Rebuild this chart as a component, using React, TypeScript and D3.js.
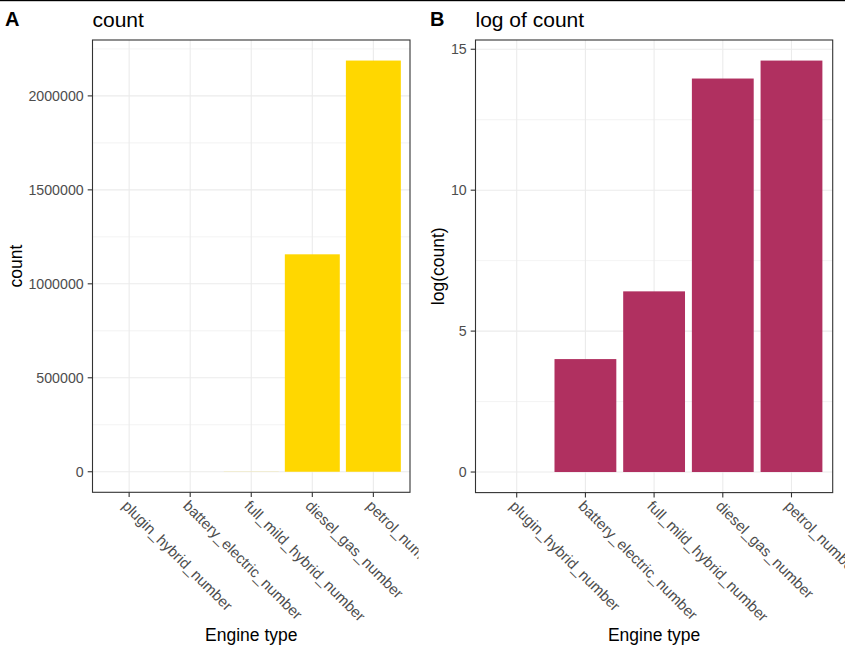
import React from "react";
import * as d3 from "d3";

const categories = [
  "plugin_hybrid_number",
  "battery_electric_number",
  "full_mild_hybrid_number",
  "diesel_gas_number",
  "petrol_number",
];
const counts = [1, 55, 608, 1157000, 2188000];
const logCounts = counts.map((c) => Math.log(c));
const ticksA = [0, 500000, 1000000, 1500000, 2000000];
const minorA = [250000, 750000, 1250000, 1750000, 2250000];
const ticksB = [0, 5, 10, 15];
const minorB = [2.5, 7.5, 12.5];

const FONT = "'Liberation Sans', Arial, Helvetica, sans-serif";

type PanelProps = {
  id: string;
  letter: string;
  letterX: number;
  title: string;
  yTitle: string;
  yTitleX: number;
  left: number;
  right: number;
  top: number;
  bottom: number;
  values: number[];
  ticks: number[];
  minor: number[];
  color: string;
  clipRight: number;
};

function Panel(p: PanelProps) {
  const maxV = d3.max(p.values) as number;
  const y = d3
    .scaleLinear()
    .domain([-0.05 * maxV, 1.05 * maxV])
    .range([p.bottom, p.top]);
  const xs = d3
    .scaleLinear()
    .domain([0.4, categories.length + 0.6])
    .range([p.left, p.right]);
  const x = (i: number) => xs(i + 1);
  const bw = xs(1.9) - xs(1);
  const cx = (p.left + p.right) / 2;
  const cy = (p.top + p.bottom) / 2;
  const fmt = d3.format("d");
  const minorVis = p.minor.filter((v) => y(v) > p.top && y(v) < p.bottom);
  return (
    <g>
      <defs>
        <clipPath id={`clip-${p.id}`}>
          <rect x={0} y={0} width={p.clipRight} height={656} />
        </clipPath>
      </defs>
      <text x={p.letterX} y={26} fontSize={20} fontWeight="bold" fontFamily={FONT} fill="#000">
        {p.letter}
      </text>
      <text x={p.left} y={26.5} fontSize={21} fontFamily={FONT} fill="#000">
        {p.title}
      </text>
      <rect x={p.left} y={p.top} width={p.right - p.left} height={p.bottom - p.top} fill="#fff" />
      {minorVis.map((v) => (
        <line key={`mn${v}`} x1={p.left} x2={p.right} y1={y(v)} y2={y(v)} stroke="#EBEBEB" strokeWidth={0.6} />
      ))}
      {p.ticks.map((v) => (
        <line key={`mj${v}`} x1={p.left} x2={p.right} y1={y(v)} y2={y(v)} stroke="#EBEBEB" strokeWidth={1.1} />
      ))}
      {categories.map((c, i) => (
        <line key={`gx${c}`} x1={x(i)} x2={x(i)} y1={p.top} y2={p.bottom} stroke="#EBEBEB" strokeWidth={1.1} />
      ))}
      {p.values.map((v, i) =>
        isFinite(v) && v > 0 ? (
          <rect key={`b${i}`} x={x(i) - bw / 2} y={y(v)} width={bw} height={y(0) - y(v)} fill={p.color} />
        ) : null
      )}
      <rect
        x={p.left}
        y={p.top}
        width={p.right - p.left}
        height={p.bottom - p.top}
        fill="none"
        stroke="#333333"
        strokeWidth={1.1}
      />
      {p.ticks.map((v) => (
        <g key={`yt${v}`}>
          <line x1={p.left - 4.8} x2={p.left} y1={y(v)} y2={y(v)} stroke="#333333" strokeWidth={1.1} />
          <text
            x={p.left - 8.8}
            y={y(v)}
            dy="0.35em"
            textAnchor="end"
            fontSize={14.2}
            fontFamily={FONT}
            fill="#4D4D4D"
          >
            {fmt(v)}
          </text>
        </g>
      ))}
      <g clipPath={`url(#clip-${p.id})`}>
        {categories.map((c, i) => (
          <g key={`xt${c}`}>
            <line x1={x(i)} x2={x(i)} y1={p.bottom} y2={p.bottom + 4.8} stroke="#333333" strokeWidth={1.1} />
            <text
              transform={`translate(${x(i) - 0.2},${p.bottom + 6.8}) rotate(45)`}
              dy="0.72em"
              textAnchor="start"
              fontSize={15}
              fontFamily={FONT}
              fill="#4D4D4D"
            >
              {c}
            </text>
          </g>
        ))}
      </g>
      <text x={cx} y={640.5} textAnchor="middle" fontSize={17.5} fontFamily={FONT} fill="#000">
        Engine type
      </text>
      <text
        transform={`translate(${p.yTitleX},${cy}) rotate(-90)`}
        textAnchor="middle"
        fontSize={17.5}
        fontFamily={FONT}
        fill="#000"
      >
        {p.yTitle}
      </text>
    </g>
  );
}

export default function App() {
  return (
    <svg
      width={845}
      height={656}
      style={{ position: "absolute", left: 0, top: 0, background: "#fff" }}
    >
      <rect x={0} y={0} width={845} height={656} fill="#fff" />
      <rect x={0} y={0} width={845} height={1.2} fill="#000" />
      <Panel
        id="a"
        letter="A"
        letterX={5}
        title="count"
        yTitle="count"
        yTitleX={22}
        left={92.5}
        right={410}
        top={40}
        bottom={492.3}
        values={counts}
        ticks={ticksA}
        minor={minorA}
        color="#FFD700"
        clipRight={418.5}
      />
      <Panel
        id="b"
        letter="B"
        letterX={430}
        title="log of count"
        yTitle="log(count)"
        yTitleX={443.5}
        left={475.5}
        right={832.7}
        top={40}
        bottom={492.6}
        values={logCounts}
        ticks={ticksB}
        minor={minorB}
        color="#B03060"
        clipRight={845}
      />
    </svg>
  );
}
